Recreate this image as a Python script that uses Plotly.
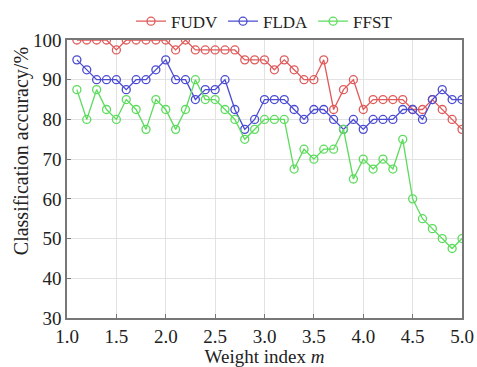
import plotly.graph_objects as go

weight_index = [round(1.1 + 0.1 * i, 1) for i in range(40)]

fudv = [100, 100, 100, 100, 97.5, 100, 100, 100, 100, 100,
        97.5, 100, 97.5, 97.5, 97.5, 97.5, 97.5, 95, 95, 95,
        92.5, 95, 92.5, 90, 90, 95, 82.5, 87.5, 90, 82.5,
        85, 85, 85, 85, 82.5, 82.5, 85, 82.5, 80, 77.5]

flda = [95, 92.5, 90, 90, 90, 87.5, 90, 90, 92.5, 95,
        90, 90, 85, 87.5, 87.5, 90, 82.5, 77.5, 80, 85,
        85, 85, 82.5, 80, 82.5, 82.5, 80, 77.5, 80, 77.5,
        80, 80, 80, 82.5, 82.5, 80, 85, 87.5, 85, 85]

ffst = [87.5, 80, 87.5, 82.5, 80, 85, 82.5, 77.5, 85, 82.5,
        77.5, 82.5, 90, 85, 85, 82.5, 80, 75, 77.5, 80,
        80, 80, 67.5, 72.5, 70, 72.5, 72.5, 77.5, 65, 70,
        67.5, 70, 67.5, 75, 60, 55, 52.5, 50, 47.5, 50]

x_ticks = [1.0, 1.5, 2.0, 2.5, 3.0, 3.5, 4.0, 4.5, 5.0]
x_tick_labels = ["1.0", "1.5", "2.0", "2.5", "3.0", "3.5", "4.0", "4.5", "5.0"]
y_ticks = [30, 40, 50, 60, 70, 80, 90, 100]

series = [("FUDV", fudv, "#E05A5A"), ("FLDA", flda, "#4B4BD2"), ("FFST", ffst, "#5CDC5C")]

SERIF = "Liberation Serif, Times New Roman, serif"

fig = go.Figure()
for name, vals, col in series:
    fig.add_trace(go.Scatter(
        x=weight_index, y=vals, name=name, mode="lines+markers",
        line=dict(color=col, width=1.3),
        marker=dict(symbol="circle-open", size=8, color=col, line=dict(width=1.3, color=col)),
    ))

fig.update_layout(
    width=477, height=367,
    margin=dict(l=67, r=15, t=40, b=49, autoexpand=False),
    paper_bgcolor="white", plot_bgcolor="white",
    font=dict(family=SERIF, size=19, color="#222"),
    legend=dict(orientation="h", x=0.5, xanchor="center", xref="paper",
                y=0.99, yanchor="top", yref="container",
                font=dict(family=SERIF, size=17), itemwidth=30, tracegroupgap=0,
                bgcolor="rgba(0,0,0,0)"),
    showlegend=True,
    annotations=[dict(text="Classification accuracy/%", textangle=-90,
                      xref="paper", yref="paper", x=0, y=0.6,
                      xanchor="center", yanchor="middle", xshift=-46,
                      showarrow=False, font=dict(family=SERIF, size=20, color="#222"))],
)
fig.update_xaxes(
    range=[1.0, 5.0], tickmode="array", tickvals=x_ticks, ticktext=x_tick_labels,
    showgrid=True, gridcolor="#E2E2E2", gridwidth=1,
    showline=True, linecolor="#777", linewidth=1.5, mirror=True,
    ticks="inside", ticklen=4, tickcolor="#777",
    tickfont=dict(family=SERIF, size=19),
    title=dict(text="Weight index <i>m</i>", standoff=0, font=dict(family=SERIF, size=19)),
    zeroline=False,
)
fig.update_yaxes(
    range=[30, 100], tickmode="array", tickvals=y_ticks,
    showgrid=True, gridcolor="#E2E2E2", gridwidth=1,
    showline=True, linecolor="#777", linewidth=1.5, mirror=True,
    ticks="inside", ticklen=4, tickcolor="#777",
    tickfont=dict(family=SERIF, size=19),
    zeroline=False,
)

fig.write_html("out.html", config={"displayModeBar": False},
               post_script="document.body.style.margin='0';document.body.style.overflow='hidden';")
